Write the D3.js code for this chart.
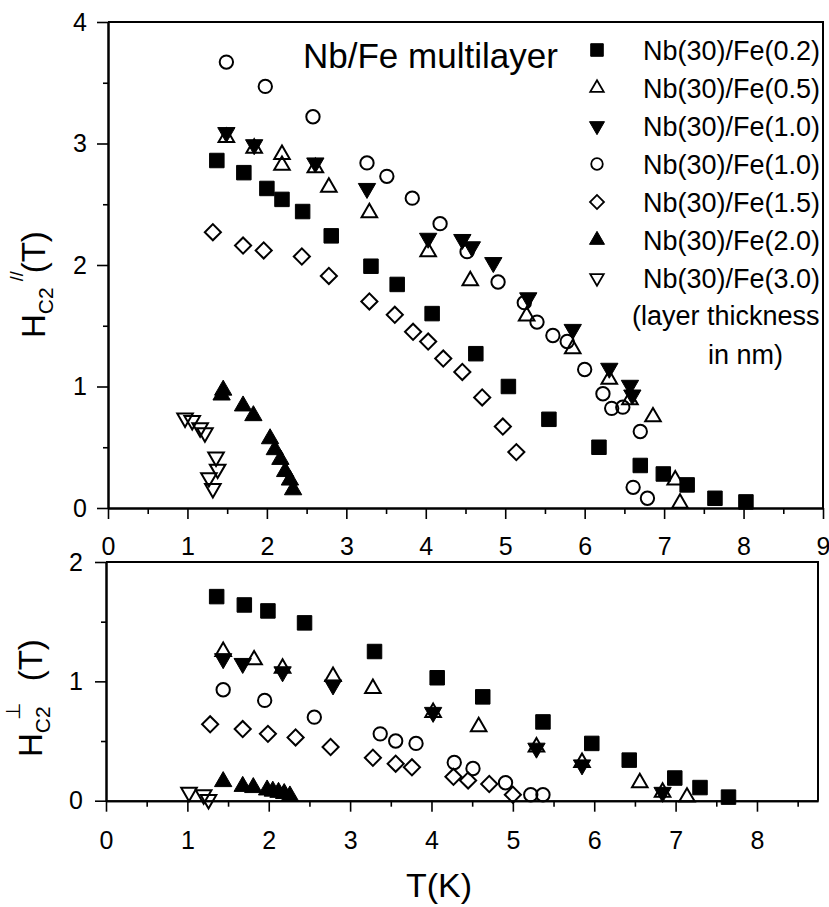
<!DOCTYPE html>
<html>
<head>
<meta charset="utf-8">
<script src="https://cdn.jsdelivr.net/npm/d3@7"></script>
<style>
  body { margin: 0; background: #fff; }
  svg { display: block; font-family: "Liberation Sans", Arial, sans-serif; }
</style>
</head>
<body>
<script>
// legend labels (layer thickness in nm)
const names = ["Nb(30)/Fe(0.2)", "Nb(30)/Fe(0.5)", "Nb(30)/Fe(1.0)", "Nb(30)/Fe(1.0)",
               "Nb(30)/Fe(1.5)", "Nb(30)/Fe(2.0)", "Nb(30)/Fe(3.0)"];

// parallel field: [T (K), Hc2 (T)]
const par02 = [[1.37,2.86],[1.71,2.76],[2.00,2.63],[2.19,2.54],[2.45,2.44],[2.81,2.24],[3.31,1.99],[3.64,1.84],
  [4.08,1.60],[4.63,1.27],[5.04,1.00],[5.55,0.73],[6.18,0.50],[6.70,0.35],[6.99,0.28],[7.29,0.19],[7.64,0.08],[8.03,0.05]];
const par05 = [[1.49,3.05],[1.84,2.96],[2.19,2.91],[2.19,2.82],[2.61,2.80],[2.78,2.64],[3.29,2.43],[4.03,2.11],
  [4.56,1.87],[5.27,1.58],[5.85,1.31],[6.31,1.06],[6.57,0.89],[6.86,0.75],[7.14,0.23],[7.20,0.04]];
const par10a = [[1.49,3.09],[1.84,2.99],[2.61,2.84],[3.26,2.63],[4.03,2.22],[4.46,2.21],[4.58,2.15],[4.85,2.02],
  [5.29,1.73],[5.85,1.47],[6.31,1.15],[6.57,1.01],[6.60,0.93]];
const par10b = [[1.49,3.67],[1.98,3.47],[2.58,3.22],[3.26,2.84],[3.51,2.73],[3.83,2.55],[4.18,2.34],[4.52,2.11],
  [4.91,1.86],[5.24,1.69],[5.40,1.53],[5.60,1.42],[5.78,1.37],[6.00,1.14],[6.23,0.94],[6.34,0.82],[6.48,0.83],
  [6.70,0.63],[6.61,0.17],[6.79,0.08]];
const par15 = [[1.32,2.27],[1.70,2.16],[1.96,2.12],[2.44,2.07],[2.78,1.91],[3.29,1.70],[3.61,1.59],[3.84,1.45],
  [4.03,1.37],[4.22,1.23],[4.46,1.12],[4.71,0.91],[4.97,0.67],[5.14,0.46]];
const par20 = [[1.45,0.97],[1.43,0.93],[1.70,0.84],[1.83,0.76],[2.04,0.57],[2.10,0.48],[2.17,0.40],[2.23,0.30],
  [2.29,0.23],[2.33,0.15]];
const par30 = [[0.97,0.74],[1.06,0.72],[1.16,0.66],[1.22,0.62],[1.36,0.42],[1.38,0.32],[1.27,0.25],[1.32,0.16]];

// perpendicular field: [T (K), Hc2 (T)]
const perp02 = [[1.36,1.71],[1.70,1.64],[1.99,1.59],[2.44,1.49],[3.30,1.25],[4.07,1.03],[4.63,0.87],[5.37,0.66],
  [5.97,0.48],[6.43,0.34],[6.99,0.19],[7.30,0.11],[7.65,0.03]];
const perp05 = [[1.44,1.25],[1.82,1.18],[2.17,1.11],[2.79,1.04],[3.28,0.94],[4.02,0.74],[4.58,0.62],[5.29,0.45],
  [5.85,0.32],[6.56,0.15],[6.84,0.07],[7.14,0.03]];
const perp10a = [[1.44,1.19],[1.68,1.15],[2.17,1.08],[2.79,0.97],[4.02,0.74],[5.29,0.44],[5.85,0.30],[6.84,0.07]];
const perp10b = [[1.44,0.93],[1.95,0.84],[2.56,0.70],[3.37,0.56],[3.56,0.50],[3.81,0.48],[4.28,0.32],[4.51,0.27],
  [4.91,0.15],[5.22,0.05],[5.37,0.05]];
const perp15 = [[1.28,0.64],[1.68,0.60],[1.99,0.56],[2.33,0.53],[2.76,0.45],[3.28,0.36],[3.56,0.31],[3.76,0.28],
  [4.27,0.20],[4.45,0.17],[4.71,0.14],[5.00,0.05]];
const perp20 = [[1.44,0.16],[1.68,0.12],[1.81,0.11],[1.98,0.09],[2.05,0.08],[2.12,0.07],[2.19,0.06],[2.26,0.04]];
const perp30 = [[1.02,0.07],[1.20,0.05],[1.26,0.01]];

const xTicksTop = [0,1,2,3,4,5,6,7,8,9];
const xTicksBot = [0,1,2,3,4,5,6,7,8];
const yTicksTop = [0,1,2,3,4];
const yTicksBot = [0,1,2];

// marker styles, one per series
const marks = [
  {type: d3.symbolSquare,   size: 210, fill: true,  rot: 0},
  {type: d3.symbolTriangle, size: 105, fill: false, rot: 0},
  {type: d3.symbolTriangle, size: 130, fill: true,  rot: 180},
  {type: d3.symbolCircle,   size: 140, fill: false, rot: 0},
  {type: d3.symbolSquare,   size: 130, fill: false, rot: 45},
  {type: d3.symbolTriangle, size: 130, fill: true,  rot: 0},
  {type: d3.symbolTriangle, size: 105, fill: false, rot: 180}
];

const W = 829, H = 907;
const svg = d3.select("body").append("svg").attr("width", W).attr("height", H);

function drawMarks(g, data, m, x, y, scale) {
  const path = d3.symbol().type(m.type).size(m.size * (scale || 1))();
  g.selectAll(null).data(data).enter().append("path")
    .attr("d", path)
    .attr("transform", d => `translate(${x(d[0])},${y(d[1])}) rotate(${m.rot})`)
    .attr("fill", m.fill ? "#000" : "none")
    .attr("stroke", "#000")
    .attr("stroke-width", m.fill ? 1 : 2);
}

function styleAxis(g) {
  g.select(".domain").attr("stroke-width", 2);
  g.selectAll(".tick line").attr("stroke-width", 1.6);
  g.selectAll("text").attr("font-size", 25).attr("fill", "#000");
}

function panel(opt) {
  const x = d3.scaleLinear().domain(opt.xd).range(opt.xr);
  const y = d3.scaleLinear().domain(opt.yd).range(opt.yr);
  const g = svg.append("g");

  // minor ticks
  g.append("g").attr("transform", `translate(0,${opt.yr[0]})`)
    .call(d3.axisBottom(x).tickValues(d3.range(0.5, opt.xd[1], 1)).tickSize(6).tickSizeOuter(0).tickFormat(""))
    .call(styleAxis);
  g.append("g").attr("transform", `translate(${opt.xr[0]},0)`)
    .call(d3.axisLeft(y).tickValues(d3.range(0.5, opt.yd[1], 1)).tickSize(5).tickSizeOuter(0).tickFormat(""))
    .call(styleAxis);
  // major ticks with labels
  g.append("g").attr("transform", `translate(0,${opt.yr[0]})`)
    .call(d3.axisBottom(x).tickValues(opt.xt).tickSize(11).tickSizeOuter(0).tickPadding(opt.xpad).tickFormat(d3.format("d")))
    .call(styleAxis);
  g.append("g").attr("transform", `translate(${opt.xr[0]},0)`)
    .call(d3.axisLeft(y).tickValues(opt.yt).tickSize(11).tickSizeOuter(0).tickPadding(opt.ypad).tickFormat(d3.format("d")))
    .call(styleAxis);

  // frame top and right
  g.append("path")
    .attr("d", `M${opt.xr[0]},${opt.yr[1]}H${opt.xr[1]}V${opt.yr[0]}`)
    .attr("fill", "none").attr("stroke", "#000").attr("stroke-width", 2);

  opt.series.forEach((s, i) => drawMarks(g, s, marks[i], x, y));
  return g;
}

panel({
  xd: [0, 9], xr: [108, 823], yd: [0, 4], yr: [508, 22],
  xt: xTicksTop, yt: yTicksTop, xpad: 18, ypad: 10,
  series: [par02, par05, par10a, par10b, par15, par20, par30]
});

panel({
  xd: [0, 8.75], xr: [106, 818], yd: [0, 2], yr: [800.7, 562],
  xt: xTicksBot, yt: yTicksBot, xpad: 20, ypad: 12,
  series: [perp02, perp05, perp10a, perp10b, perp15, perp20, perp30]
});

// title
svg.append("text").attr("x", 303).attr("y", 68).attr("font-size", 35).text("Nb/Fe multilayer");

// legend
const leg = svg.append("g");
names.forEach((n, i) => {
  const cy = 50 + i * 38;
  const m = marks[i];
  leg.append("path")
    .attr("d", d3.symbol().type(m.type).size(m.size * 0.75)())
    .attr("transform", `translate(597,${cy}) rotate(${m.rot})`)
    .attr("fill", m.fill ? "#000" : "none")
    .attr("stroke", "#000")
    .attr("stroke-width", m.fill ? 1 : 1.8);
  leg.append("text").attr("x", 643).attr("y", cy + 10).attr("font-size", 27).text(n);
});
leg.append("text").attr("x", 632).attr("y", 325).attr("font-size", 27).text("(layer thickness");
leg.append("text").attr("x", 708).attr("y", 364).attr("font-size", 27).text("in nm)");

// y labels
const yl1 = svg.append("text").attr("transform", "translate(45,338) rotate(-90)").attr("font-size", 33);
yl1.append("tspan").text("H");
yl1.append("tspan").attr("font-size", 21).attr("dy", 8).text("C2");
yl1.append("tspan").attr("font-size", 18).attr("dy", -30).attr("dx", 6).text("//");
yl1.append("tspan").attr("dy", 22).attr("dx", -2).text("(T)");

const yl2 = svg.append("text").attr("transform", "translate(42,757) rotate(-90)").attr("font-size", 33);
yl2.append("tspan").text("H");
yl2.append("tspan").attr("font-size", 21).attr("dy", 8).text("C2");
yl2.append("tspan").attr("font-size", 20).attr("dy", -30).attr("dx", -14).text("⊥");
yl2.append("tspan").attr("dy", 22).attr("dx", 22).text("(T)");

// x label
svg.append("text").attr("x", 439).attr("y", 897).attr("text-anchor", "middle").attr("font-size", 34).text("T(K)");
</script>
</body>
</html>
